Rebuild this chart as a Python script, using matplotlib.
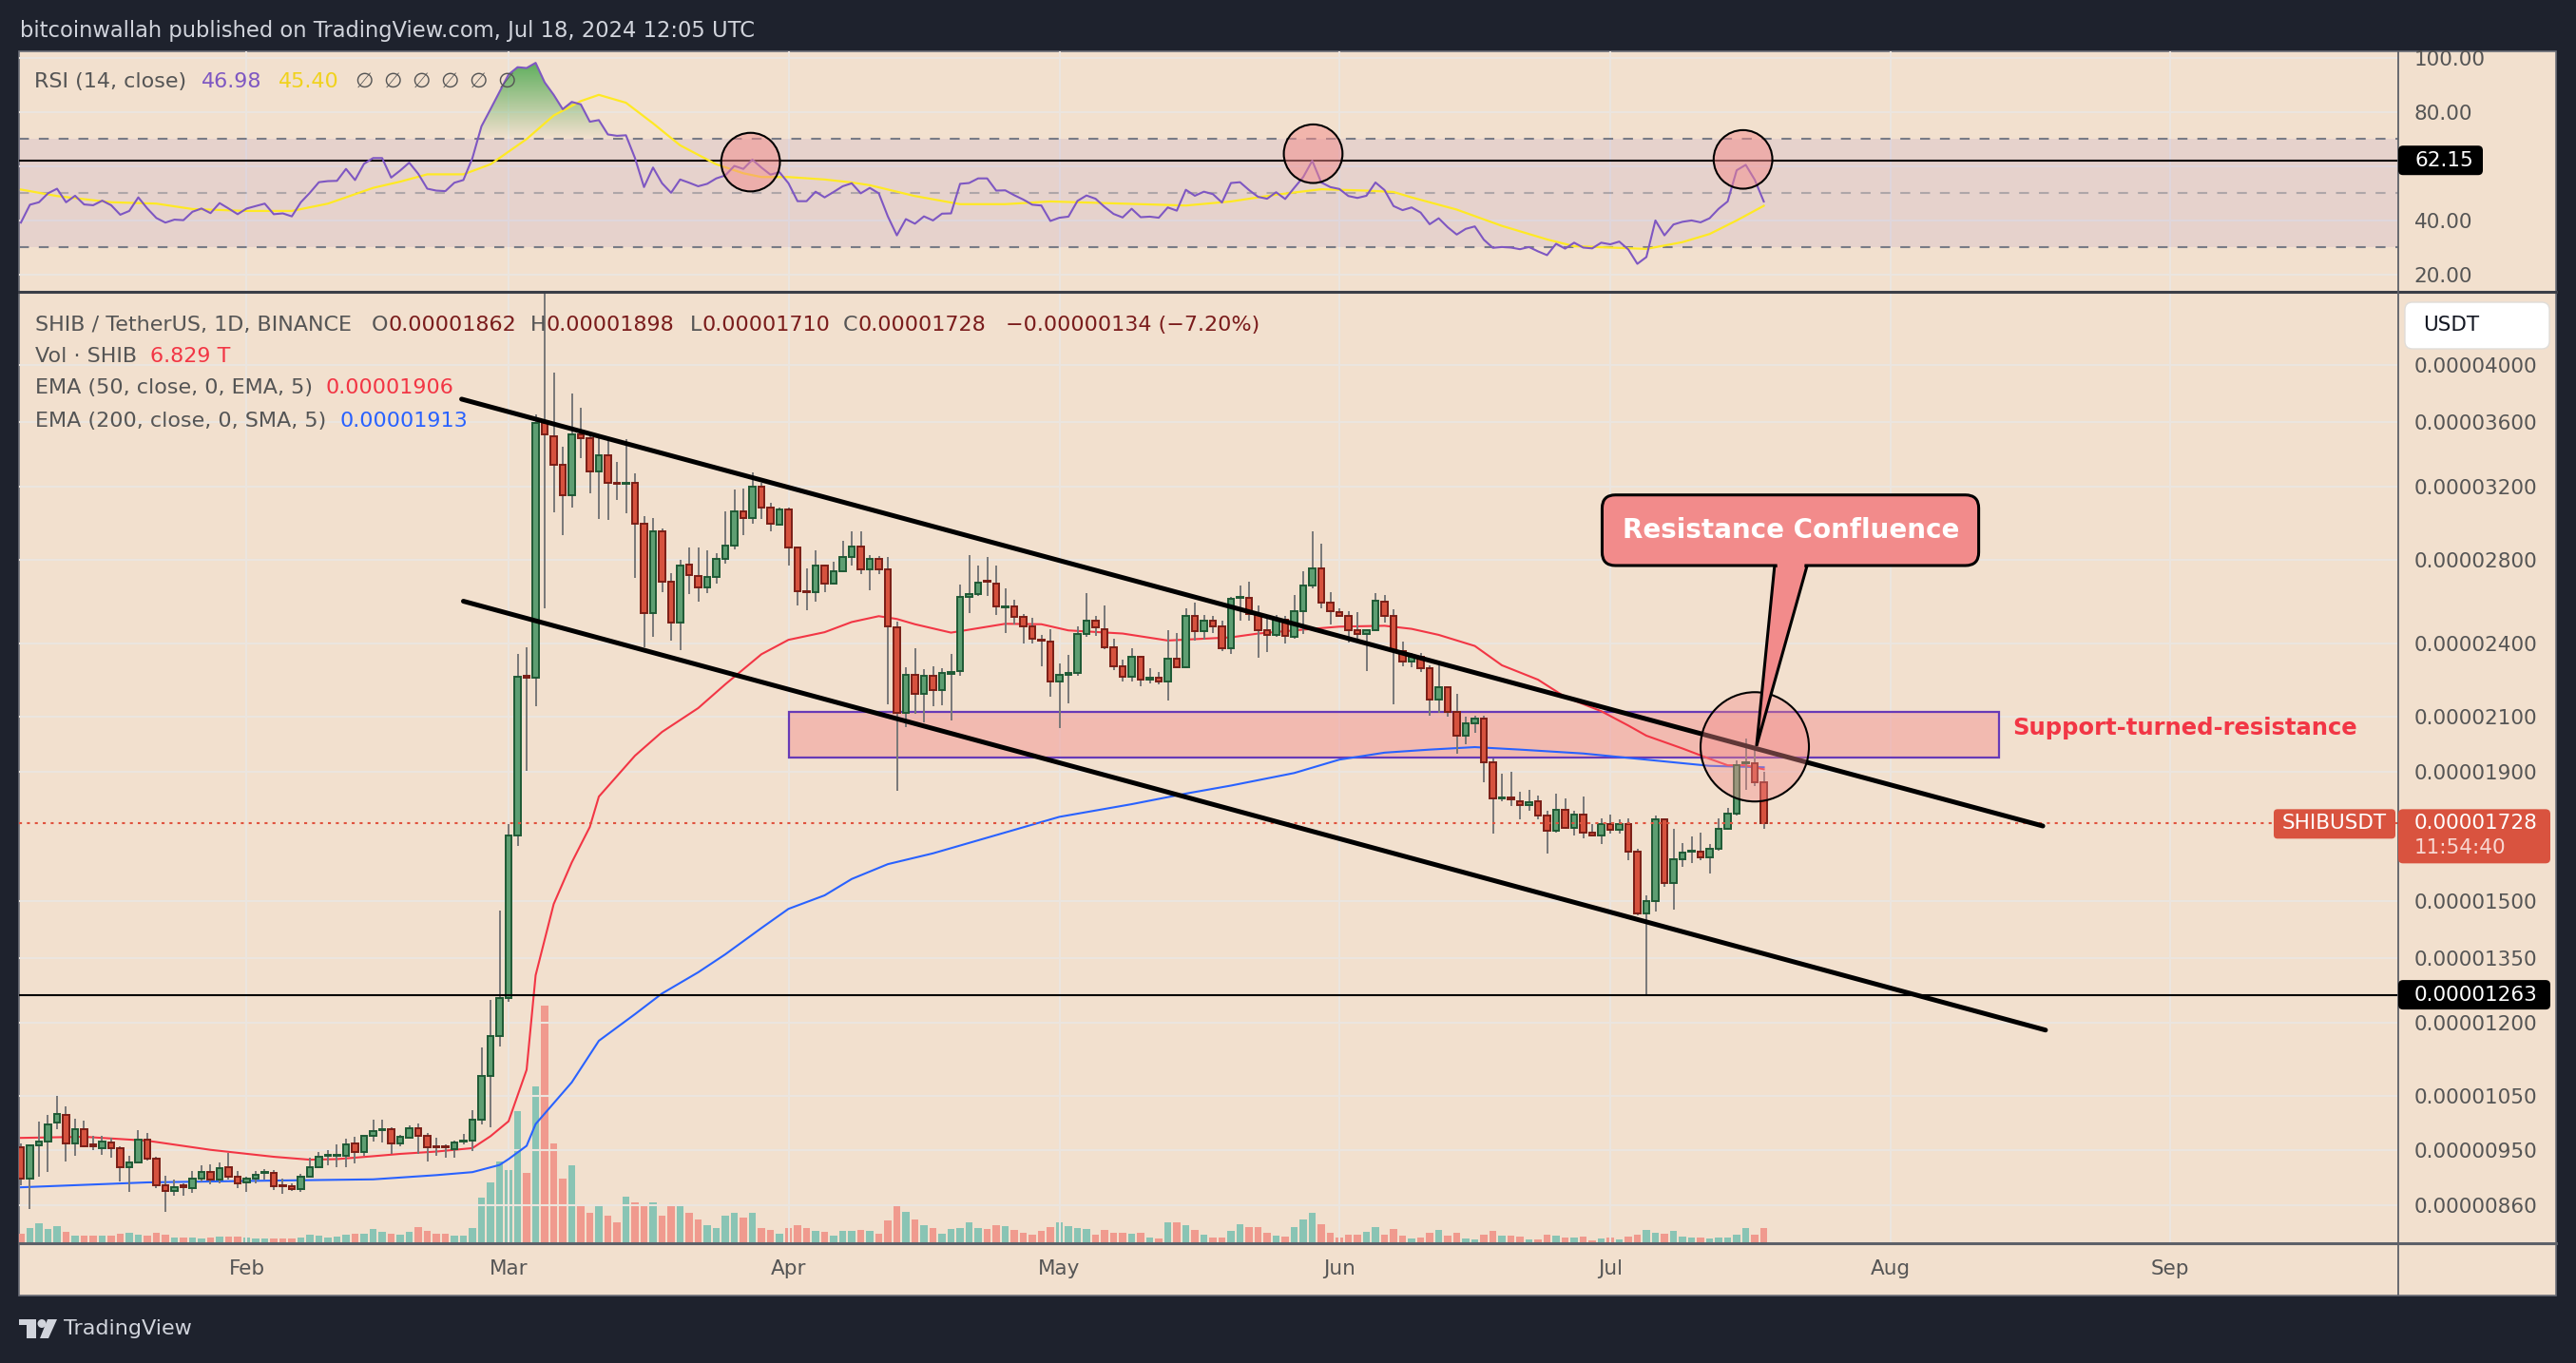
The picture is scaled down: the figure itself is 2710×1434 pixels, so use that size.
import numpy as np
import matplotlib
matplotlib.use("Agg")
import matplotlib.pyplot as plt
from matplotlib.patches import Rectangle, Ellipse, FancyBboxPatch, Polygon, Circle
from matplotlib.lines import Line2D
from matplotlib.transforms import IdentityTransform
from matplotlib.ticker import FixedLocator, NullLocator

# day index: 0 = 1 Jan 2024; prices in units of 1e-8 USDT; volume in trillions of SHIB
first_day = 6
open_ = [956, 902, 959, 966, 999, 1014, 963, 987, 960, 954,
         964, 954, 921, 930, 969, 935, 892, 882, 891, 887,
         903, 913, 901, 921, 905, 896, 903, 912, 912, 892,
         890, 885, 906, 921, 940, 941, 941, 963, 947, 975,
         986, 987, 962, 973, 989, 975, 957, 957, 952, 966,
         967, 1005, 1088, 1171, 1256, 1690, 2262, 2255, 3595, 3510,
         3332, 3149, 3524, 3495, 3290, 3387, 3225, 3217, 3220, 2990,
         2540, 2950, 2687, 2494, 2776, 2716, 2660, 2711, 2806, 2872,
         3060, 3022, 3198, 3080, 2985, 3072, 2862, 2645, 2640, 2770,
         2681, 2740, 2815, 2870, 2752, 2806, 2750, 2476, 2115, 2266,
         2192, 2265, 2205, 2270, 2284, 2617, 2627, 2693, 2680, 2568,
         2570, 2520, 2477, 2420, 2410, 2240, 2268, 2275, 2442, 2503,
         2466, 2386, 2302, 2260, 2346, 2250, 2255, 2240, 2336, 2300,
         2525, 2457, 2503, 2477, 2382, 2610, 2610, 2532, 2460, 2438,
         2507, 2430, 2550, 2672, 2754, 2590, 2545, 2528, 2460, 2442,
         2460, 2593, 2528, 2368, 2325, 2346, 2294, 2167, 2219, 2118,
         2029, 2076, 2094, 1931, 1809, 1812, 1800, 1786, 1799, 1752,
         1704, 1772, 1714, 1755, 1699, 1690, 1725, 1709, 1725, 1640,
         1465, 1500, 1740, 1549, 1618, 1640, 1640, 1625, 1650, 1710,
         1760, 1930, 1930, 1862]
high = [962, 960, 1001, 1014, 1049, 1029, 1006, 1004, 975, 975,
        972, 957, 941, 986, 980, 939, 907, 900, 895, 915,
        924, 926, 929, 946, 915, 905, 915, 918, 916, 903,
        895, 910, 938, 948, 951, 961, 970, 974, 976, 1005,
        1005, 991, 977, 994, 998, 980, 972, 960, 967, 979,
        1023, 1146, 1252, 1474, 1726, 2355, 2386, 3655, 4567, 3943,
        3443, 3797, 3695, 3540, 3520, 3500, 3350, 3488, 3280, 3030,
        3020, 2965, 2734, 2800, 2863, 2863, 2848, 2835, 3060, 3183,
        3188, 3285, 3225, 3106, 3080, 3080, 2870, 2755, 2846, 2775,
        2790, 2900, 2950, 2950, 2825, 2820, 2815, 2500, 2298, 2379,
        2290, 2303, 2294, 2355, 2675, 2823, 2770, 2813, 2770, 2657,
        2603, 2535, 2517, 2438, 2466, 2315, 2352, 2477, 2635, 2525,
        2576, 2424, 2330, 2381, 2348, 2294, 2280, 2463, 2450, 2560,
        2590, 2529, 2525, 2503, 2615, 2670, 2690, 2576, 2516, 2530,
        2525, 2625, 2743, 2949, 2881, 2637, 2560, 2550, 2545, 2466,
        2635, 2625, 2555, 2411, 2362, 2359, 2308, 2324, 2219, 2190,
        2100, 2105, 2105, 1945, 1893, 1900, 1830, 1836, 1820, 1770,
        1825, 1809, 1770, 1814, 1727, 1745, 1757, 1740, 1745, 1650,
        1514, 1754, 1745, 1712, 1668, 1687, 1700, 1663, 1743, 1778,
        1939, 2017, 1986, 1898]
low = [892, 853, 905, 913, 987, 931, 941, 955, 950, 943,
       938, 897, 880, 929, 933, 887, 849, 875, 875, 879,
       897, 893, 895, 900, 886, 880, 895, 901, 884, 878,
       882, 880, 905, 920, 924, 922, 922, 928, 940, 965,
       964, 944, 958, 970, 944, 931, 940, 938, 937, 961,
       949, 997, 991, 1149, 1247, 1658, 1904, 2142, 2562, 3054,
       2931, 3080, 3370, 3163, 3016, 3010, 3125, 3048, 2710, 2385,
       2431, 2638, 2414, 2373, 2630, 2594, 2634, 2682, 2780, 2855,
       2928, 2990, 3015, 2950, 2980, 2770, 2573, 2553, 2594, 2640,
       2675, 2735, 2770, 2725, 2646, 2725, 2149, 1833, 2060, 2110,
       2080, 2140, 2145, 2085, 2265, 2540, 2618, 2620, 2530, 2450,
       2488, 2403, 2403, 2303, 2180, 2057, 2153, 2263, 2430, 2434,
       2375, 2287, 2240, 2240, 2222, 2232, 2227, 2164, 2296, 2296,
       2414, 2417, 2448, 2368, 2355, 2506, 2506, 2341, 2365, 2430,
       2403, 2424, 2445, 2656, 2562, 2488, 2520, 2405, 2417, 2285,
       2457, 2497, 2150, 2303, 2300, 2278, 2105, 2115, 2100, 1962,
       1998, 2040, 1862, 1697, 1799, 1783, 1742, 1770, 1742, 1635,
       1700, 1710, 1690, 1682, 1690, 1663, 1697, 1697, 1616, 1460,
       1263, 1470, 1539, 1475, 1595, 1606, 1616, 1578, 1645, 1708,
       1754, 1838, 1850, 1710]
close = [902, 959, 966, 997, 1015, 963, 987, 958, 957, 965,
         954, 921, 930, 969, 936, 892, 882, 888, 888, 903,
         913, 901, 919, 905, 894, 903, 909, 914, 890, 890,
         885, 906, 921, 939, 942, 942, 961, 947, 975, 985,
         988, 963, 974, 990, 975, 955, 955, 955, 964, 968,
         1005, 1088, 1171, 1256, 1690, 2260, 2258, 3595, 3524, 3332,
         3149, 3524, 3500, 3290, 3387, 3225, 3217, 3222, 2990, 2540,
         2950, 2687, 2494, 2770, 2722, 2660, 2711, 2806, 2872, 3060,
         3022, 3200, 3082, 2990, 3072, 2862, 2643, 2640, 2770, 2681,
         2740, 2815, 2870, 2752, 2806, 2752, 2478, 2115, 2266, 2192,
         2265, 2205, 2277, 2280, 2617, 2627, 2686, 2688, 2570, 2572,
         2522, 2477, 2422, 2415, 2240, 2268, 2275, 2442, 2503, 2474,
         2386, 2302, 2260, 2346, 2250, 2255, 2240, 2336, 2300, 2525,
         2457, 2503, 2478, 2382, 2607, 2617, 2535, 2460, 2438, 2507,
         2434, 2550, 2672, 2754, 2590, 2546, 2528, 2460, 2442, 2460,
         2597, 2528, 2368, 2325, 2346, 2295, 2167, 2219, 2119, 2029,
         2076, 2094, 1931, 1809, 1812, 1805, 1786, 1798, 1752, 1704,
         1772, 1714, 1755, 1699, 1690, 1725, 1709, 1725, 1640, 1465,
         1500, 1740, 1549, 1618, 1638, 1645, 1625, 1650, 1710, 1760,
         1922, 1933, 1862, 1728]
volume_t = [3.9, 6.7, 8.8, 6.1, 7.4, 4.8, 3.0, 3.0, 3.0, 3.0,
            3.0, 3.9, 4.3, 3.4, 3.0, 4.3, 3.4, 2.1, 2.1, 2.1,
            1.7, 2.1, 2.5, 2.5, 2.5, 2.1, 1.7, 1.7, 1.7, 1.7,
            1.7, 2.1, 3.4, 3.0, 2.1, 2.5, 3.4, 3.9, 3.9, 6.1,
            4.8, 3.9, 3.4, 4.8, 7.0, 5.2, 3.9, 3.9, 3.0, 3.0,
            6.6, 20.8, 28.3, 38.1, 33.9, 61.8, 32.8, 73.1, 111.3, 46.4,
            29.9, 36.1, 17.8, 13.8, 17.4, 12.5, 9.5, 21.4, 18.7, 16.9,
            18.7, 12.5, 17.8, 16.9, 13.8, 10.9, 8.0, 6.7, 12.5, 13.8,
            11.6, 13.8, 6.7, 5.8, 4.0, 6.7, 8.0, 6.7, 5.4, 4.9,
            3.1, 5.4, 5.4, 5.8, 5.4, 4.0, 10.3, 16.9, 14.3, 10.9,
            8.0, 6.7, 4.0, 6.2, 6.7, 9.4, 6.7, 6.2, 8.0, 7.6,
            5.8, 4.5, 3.6, 5.4, 7.1, 9.4, 7.6, 6.7, 6.2, 3.6,
            5.8, 4.5, 4.5, 4.0, 4.5, 2.2, 1.8, 9.4, 9.4, 8.0,
            5.8, 3.6, 2.2, 2.2, 5.4, 8.5, 7.1, 7.1, 4.5, 3.1,
            2.7, 7.1, 10.7, 13.8, 8.5, 4.5, 2.2, 3.6, 3.6, 4.9,
            7.1, 3.6, 6.2, 3.1, 1.8, 2.2, 4.5, 5.8, 3.1, 4.5,
            1.8, 1.3, 3.6, 5.4, 3.1, 3.1, 2.7, 1.3, 1.3, 3.6,
            3.1, 2.2, 2.2, 2.7, 0.9, 1.8, 2.2, 1.3, 2.7, 3.6,
            5.8, 4.5, 4.0, 5.4, 2.7, 2.2, 2.2, 1.8, 2.2, 2.2,
            3.6, 6.7, 3.6, 6.8]
rsi = [39.2, 45.8, 46.7, 50.0, 51.7, 46.7, 49.1, 45.9, 45.6, 47.3,
       45.6, 42.1, 43.5, 48.5, 44.4, 40.9, 39.2, 40.3, 40.1, 43.2,
       44.4, 42.7, 46.4, 44.4, 42.3, 44.4, 45.3, 46.2, 42.3, 42.6,
       41.5, 46.7, 50.2, 54.1, 54.5, 54.6, 59.0, 54.9, 60.9, 63.0,
       63.0, 55.8, 58.4, 61.3, 57.2, 51.7, 51.0, 50.8, 53.9, 54.9,
       63.0, 74.7, 81.0, 87.4, 93.8, 96.5, 96.2, 98.1, 90.9, 86.3,
       81.0, 83.7, 82.8, 76.4, 77.0, 71.7, 71.2, 71.4, 63.0, 52.3,
       59.5, 53.7, 50.2, 55.1, 53.9, 52.6, 53.5, 55.5, 56.6, 60.1,
       59.0, 62.4, 59.5, 56.9, 57.8, 53.7, 47.1, 47.1, 50.6, 48.5,
       50.5, 52.6, 53.7, 50.0, 52.0, 50.0, 41.5, 34.5, 40.5, 38.8,
       41.5, 40.0, 42.5, 42.6, 53.5, 53.8, 55.5, 55.5, 51.0, 51.1,
       49.3, 47.7, 45.8, 45.5, 39.8, 41.0, 41.4, 47.2, 49.2, 48.0,
       45.0, 42.4, 41.1, 44.3, 41.2, 41.4, 41.0, 44.8, 43.6, 51.3,
       49.1, 50.6, 49.7, 46.6, 53.8, 54.1, 51.2, 48.7, 48.0, 50.4,
       47.9, 52.0, 56.0, 62.0, 54.0, 52.3, 51.6, 49.0, 48.3, 49.1,
       54.0, 51.2, 45.3, 43.8, 44.8, 42.9, 38.6, 40.8, 37.5, 34.8,
       36.9, 37.8, 32.9, 29.9, 30.2, 30.0, 29.4, 30.2, 28.6, 27.2,
       31.4, 29.6, 31.8, 30.0, 29.7, 31.8, 31.2, 32.2, 29.3, 24.0,
       26.5, 40.0, 34.5, 38.5, 39.5, 40.0, 39.3, 40.8, 44.3, 47.0,
       58.5, 60.5, 55.0, 46.98]
rsi_ma_day = [6, 10, 16, 21, 25, 31, 36, 40, 45, 48, 51, 55, 58, 62, 65, 68, 70, 73, 76,
              79, 83, 86, 88, 91, 95, 98, 100, 105, 110, 115, 120, 125, 130, 135, 140,
              145, 150, 155, 158, 160, 165, 170, 175, 178, 182, 186, 190, 193, 196, 199]
rsi_ma = [51.4, 49.0, 46.7, 46.2, 44.2, 43.5, 43.5, 46.2, 52.0, 54.3, 57.0, 57.0, 60.7,
          70.0, 78.7, 84.0, 86.3, 83.4, 75.8, 67.7, 60.7, 57.4, 56.0, 56.0, 55.1, 54.0,
          53.0, 49.0, 46.0, 46.0, 47.0, 46.5, 46.0, 45.5, 47.0, 49.5, 51.5, 51.0, 50.5,
          48.5, 44.0, 38.0, 33.0, 30.5, 30.0, 29.5, 32.0, 35.0, 40.0, 45.4]
ema50_day = [6, 13, 20, 27, 34, 38, 41, 45, 48, 52, 56, 58, 60, 62, 63, 65, 67, 69, 70,
             74, 77, 81, 84, 88, 91, 95, 98, 101, 103, 105, 109, 115, 119, 122, 128, 133,
             136, 140, 143, 149, 152, 157, 160, 163, 167, 170, 174, 177, 181, 184, 186,
             190, 193, 195, 197, 199]
ema50 = [972, 974, 967, 951, 939, 934, 935, 940, 944, 948, 954, 975, 1002, 1101, 1309,
         1491, 1609, 1717, 1815, 1956, 2043, 2134, 2229, 2355, 2418, 2452, 2498, 2525,
         2512, 2488, 2450, 2490, 2488, 2460, 2446, 2415, 2421, 2429, 2446, 2467, 2477,
         2481, 2467, 2440, 2391, 2308, 2248, 2178, 2122, 2067, 2029, 1982, 1945, 1922,
         1922, 1908]
ema200_day = [6, 20, 34, 45, 52, 56, 59, 60, 62, 63, 67, 70, 74, 77, 81, 84, 88, 91, 95,
              98, 102, 107, 121, 129, 135, 140, 147, 152, 157, 162, 167, 172, 179, 186,
              193, 199]
ema200 = [888, 896, 899, 901, 908, 913, 925, 935, 958, 997, 1076, 1161, 1219, 1266, 1316,
          1360, 1427, 1478, 1515, 1561, 1604, 1636, 1749, 1790, 1825, 1852, 1895, 1942,
          1967, 1978, 1987, 1978, 1964, 1942, 1920, 1915]
price_ticks = [4000, 3600, 3200, 2800, 2400, 2100, 1900, 1500, 1350, 1200, 1050, 950, 860]
rsi_ticks = [20, 40, 60, 80, 100]
rsi_tick_labels = ["20.00", "40.00", "", "80.00", "100.00"]
month_day = [31, 60, 91, 121, 152, 182, 213, 244]
month_name = ["Feb", "Mar", "Apr", "May", "Jun", "Jul", "Aug", "Sep"]
channel_upper_day = [54.8, 229.9]
channel_upper = [3756, 1720]
channel_lower_day = [55.0, 230.2]
channel_lower = [2595, 1184]
zone_day = [91, 225.1]
zone_price = [1948, 2119]
swing_low = 1263
last_price = 1728
rsi_level = 62.15
rsi_circle_day = [86.8, 149.1, 196.7]
rsi_circle_val = [61.5, 64.6, 62.5]

E8 = 1e-8
W, H = 2710, 1434
BG = "#1e222d"
PANE = "#f2e0ce"
GRID = "#ebe5df"
TXT = "#555555"
VAL = "#7a1c1c"
CALLOUT = "#f28b8b"

days = np.arange(first_day, first_day + len(close))
o = np.array(open_) * E8
h = np.array(high) * E8
l = np.array(low) * E8
c = np.array(close) * E8
up = c >= o

fig = plt.figure(figsize=(W / 100, H / 100), dpi=100, facecolor=BG)


def fig_box(x0, y0, x1, y1):
    # pixel box measured from top-left -> add_axes rect
    return [x0 / W, 1 - y1 / H, (x1 - x0) / W, (y1 - y0) / H]


def ptxt(x, y, s, **kw):
    return fig.text(x / W, 1 - y / H, s, **kw)


def run(x, y, parts, size=16):
    r = fig.canvas.get_renderer()
    for s, col in parts:
        t = ptxt(x, y, s, color=col, fontsize=size, va="center")
        x += t.get_window_extent(r).width


def px_box(x0, y0, x1, y1, fc, ec="none", r=0, z=9):
    style = "round,pad=0,rounding_size=%g" % r if r else "square,pad=0"
    fig.add_artist(FancyBboxPatch((x0, H - y1), x1 - x0, y1 - y0, boxstyle=style,
                                  transform=IdentityTransform(), facecolor=fc,
                                  edgecolor=ec, lw=1, zorder=z))


def fig_line(xs, ys, color, lw, z=8):
    fig.add_artist(Line2D([x / W for x in xs], [1 - y / H for y in ys],
                          transform=fig.transFigure, color=color, lw=lw, zorder=z))


# panel background
fig.add_artist(Rectangle((20 / W, 1 - 1363 / H), 2669 / W, 1309 / H, transform=fig.transFigure,
                         facecolor=PANE, edgecolor="#6b6e78", lw=1.2, zorder=-5))

ax_rsi = fig.add_axes(fig_box(20, 54, 2523, 306))
ax = fig.add_axes(fig_box(20, 308, 2523, 1307))
ax_vol = ax.twinx()
ax.set_zorder(2)
ax_vol.set_zorder(1)
for a in (ax, ax_rsi, ax_vol):
    a.patch.set_visible(False)
    for s in a.spines.values():
        s.set_visible(False)
ax_vol.set_axis_off()

# ---------- price pane ----------
ax.set_yscale("log")
ax.yaxis.tick_right()
ax.yaxis.set_major_locator(FixedLocator(np.array(price_ticks) * E8))
ax.yaxis.set_minor_locator(NullLocator())
ax.set_yticklabels(["%.8f" % (v * E8) for v in price_ticks])
ax.set_xticks(month_day)
ax.set_xticklabels(month_name)
ax.tick_params(axis="y", length=0, pad=12, labelsize=15.5, labelcolor=TXT)
ax.tick_params(axis="x", length=0, pad=13, labelsize=15.5, labelcolor=TXT)
ax.grid(True, color=GRID, lw=1.5)
ax.set_axisbelow(True)

ax_vol.bar(days, volume_t, width=0.75, color=np.where(up, "#89c4b4", "#f09a8e"))
ax_vol.set_ylim(0, 446)

ax.add_patch(Rectangle((zone_day[0], zone_price[0] * E8), zone_day[1] - zone_day[0],
                       (zone_price[1] - zone_price[0]) * E8, facecolor=(0.95, 0.55, 0.55, 0.45),
                       edgecolor="#673ab7", lw=1.6, zorder=2.5))
ax.plot(ema200_day, np.array(ema200) * E8, color="#2962ff", lw=1.5, zorder=3)
ax.plot(ema50_day, np.array(ema50) * E8, color="#f23645", lw=1.5, zorder=3)

ax.vlines(days, l, h, color="#787878", lw=1.4, zorder=3.5)
lo_b = np.minimum(o, c)
ax.bar(days, np.maximum(o, c) - lo_b, bottom=lo_b, width=0.68,
       color=np.where(up, "#5e9e72", "#d6523e"), edgecolor=np.where(up, "#1f5a35", "#7a1e16"),
       linewidth=1.4, zorder=4)

ax.plot(channel_upper_day, np.array(channel_upper) * E8, color="black", lw=3.6,
        solid_capstyle="round", zorder=6)
ax.plot(channel_lower_day, np.array(channel_lower) * E8, color="black", lw=3.6,
        solid_capstyle="round", zorder=6)
ax.axhline(swing_low * E8, color="black", lw=1.5, zorder=5)
ax.axhline(last_price * E8, color="#e0533f", lw=1.5, ls=(0, (1.5, 2.5)), zorder=5)
ax.text(226.5, 2058 * E8, "Support-turned-resistance", color="#f23645", fontsize=17.5,
        fontweight="bold", va="center", ha="left", zorder=7)

ax.set_xlim(5.79, 269.26)
ax.set_ylim(803 * E8, 4563 * E8)


def to_px(day, price):
    return ax.transData.transform((day, price * E8))


# confluence circle
cx, cy = to_px(198.0, 1988)
ax.add_patch(Ellipse((cx, cy), 114, 115, transform=IdentityTransform(),
                     facecolor=(0.95, 0.55, 0.55, 0.4), edgecolor="black", lw=1.5, zorder=7))

# callout
bx0, by1 = to_px(181.1, 3152)
bx1, by0 = to_px(222.8, 2770)
t1 = to_px(200.2, 2770)
t2 = to_px(203.8, 2770)
tip = to_px(198.2, 1991)
ax.add_patch(Polygon([t1, t2, tip], closed=True, transform=IdentityTransform(),
                     facecolor=CALLOUT, edgecolor="black", lw=2.2, zorder=8))
ax.add_patch(FancyBboxPatch((bx0, by0), bx1 - bx0, by1 - by0, boxstyle="round,pad=0,rounding_size=14",
                            transform=IdentityTransform(), facecolor=CALLOUT, edgecolor="black",
                            lw=2.2, zorder=8))
ax.add_patch(Polygon([(t1[0] + 2.5, by0 + 4), (t2[0] - 2.5, by0 + 4), (t2[0] - 3, by0 - 3),
                      (t1[0] + 3, by0 - 3)], closed=True, transform=IdentityTransform(),
                     facecolor=CALLOUT, edgecolor="none", zorder=8.5))
ax.text(202, 2955 * E8, "Resistance Confluence", color="white", fontsize=20, fontweight="bold",
        ha="center", va="center", zorder=9)

# ---------- RSI pane ----------
ax_rsi.set_yticks(rsi_ticks)
ax_rsi.set_yticklabels(rsi_tick_labels)
ax_rsi.yaxis.tick_right()
ax_rsi.set_xticks(month_day)
ax_rsi.tick_params(axis="y", length=0, pad=12, labelsize=15.5, labelcolor=TXT)
ax_rsi.tick_params(axis="x", length=0, labelbottom=False)
ax_rsi.grid(True, color=GRID, lw=1.5)
ax_rsi.set_axisbelow(True)
ax_rsi.axhspan(30, 70, color="#7e57c2", alpha=0.1, lw=0)
for lev, al in ((70, 1.0), (50, 0.5), (30, 1.0)):
    ax_rsi.axhline(lev, color="#787b86", alpha=al, lw=1.5, ls=(0, (5, 5)))
ax_rsi.axhline(rsi_level, color="black", lw=1.5, zorder=3)

rsi_arr = np.array(rsi)
ob = ax_rsi.fill_between(days, rsi_arr, 70, where=rsi_arr >= 70, interpolate=True,
                         facecolor="none", edgecolor="none")
grad = np.zeros((256, 1, 4))
grad[:, 0, 0], grad[:, 0, 1], grad[:, 0, 2] = 0.30, 0.66, 0.31
grad[:, 0, 3] = np.linspace(0.0, 0.95, 256)
im = ax_rsi.imshow(grad, extent=(days[0], days[-1], 70, 100), origin="lower", aspect="auto",
                   zorder=2)
im.set_clip_path(ob.get_paths()[0], transform=ax_rsi.transData)

ax_rsi.plot(rsi_ma_day, rsi_ma, color="#ffe924", lw=1.6, zorder=4)
ax_rsi.plot(days, rsi_arr, color="#7e57c2", lw=1.5, zorder=4)
for d, v in zip(rsi_circle_day, rsi_circle_val):
    ax_rsi.add_patch(Ellipse((d, v), 6.5, 21.6, facecolor=(0.95, 0.55, 0.55, 0.5),
                             edgecolor="black", lw=1.5, zorder=5))
ax_rsi.set_xlim(5.79, 269.26)
ax_rsi.set_ylim(14.04, 102.35)

# ---------- frame / separators ----------
fig_line([20, 2689], [307, 307], "#3b3e47", 2.2)
fig_line([20, 2689], [1307.5, 1307.5], "#5d6068", 2.2)
fig_line([2523, 2523], [54, 1363], "#5d6068", 1.3)

# ---------- axis label boxes ----------
y_rsi = H - ax_rsi.transData.transform((0, rsi_level))[1]
px_box(2523, y_rsi - 15.5, 2612, y_rsi + 15.5, "black", r=5)
ptxt(2540, y_rsi, "%.2f" % rsi_level, color="white", fontsize=15.5, va="center", zorder=10)

y_sl = H - to_px(0, swing_low)[1]
px_box(2523, y_sl - 15.5, 2683, y_sl + 15.5, "black", r=5)
ptxt(2540, y_sl, "0.00001263", color="white", fontsize=15.5, va="center", zorder=10)

y_lp = H - to_px(0, last_price)[1]
px_box(2523, y_lp - 15, 2683, y_lp + 42, "#d9533f", r=5)
ptxt(2540, y_lp, "0.00001728", color="white", fontsize=15.5, va="center", zorder=10)
ptxt(2540, y_lp + 26, "11:54:40", color="#f8d8d2", fontsize=15.5, va="center", zorder=10)
px_box(2392, y_lp - 15, 2520, y_lp + 16, "#d9533f", r=4)
ptxt(2456, y_lp, "SHIBUSDT", color="white", fontsize=15.5, va="center", ha="center", zorder=10)

px_box(2530, 318, 2682, 367, "white", ec="#e0ddd9", r=8)
ptxt(2549, 342, "USDT", color="#131722", fontsize=15.5, va="center", zorder=10)

# ---------- legends ----------
ptxt(35.6, 86, "RSI (14, close)", color=TXT, fontsize=16, va="center")
ptxt(212, 86, "46.98", color="#7e57c2", fontsize=16, va="center")
ptxt(293, 86, "45.40", color="#f0d21c", fontsize=16, va="center")
for i in range(6):
    ptxt(373 + 30 * i, 86, "\u2205", color=TXT, fontsize=16, va="center")

ptxt(36.6, 341.7, "SHIB / TetherUS, 1D, BINANCE", color=TXT, fontsize=16, va="center")
run(391, 341.7, [("O", TXT), ("0.00001862", VAL)])
run(558, 341.7, [("H", TXT), ("0.00001898", VAL)])
run(726, 341.7, [("L", TXT), ("0.00001710", VAL)])
run(887, 341.7, [("C", TXT), ("0.00001728", VAL)])
ptxt(1058, 341.7, "\u22120.00000134 (\u22127.20%)", color=VAL, fontsize=16, va="center")
run(36.6, 375, [("Vol \u00b7 SHIB  ", TXT), ("6.829 T", "#f23645")])
run(36.6, 408, [("EMA (50, close, 0, EMA, 5)  ", TXT), ("0.00001906", "#f23645")])
run(36.6, 443, [("EMA (200, close, 0, SMA, 5)  ", TXT), ("0.00001913", "#2962ff")])

# ---------- header / footer ----------
ptxt(21, 32, "bitcoinwallah published on TradingView.com, Jul 18, 2024 12:05 UTC",
     color="#d1d4dc", fontsize=16.3, va="center")
logo = "#d1d4dc"
fig.add_artist(Rectangle((20, H - 1394), 18, 6, transform=IdentityTransform(), facecolor=logo))
fig.add_artist(Rectangle((28, H - 1408), 10, 20, transform=IdentityTransform(), facecolor=logo))
fig.add_artist(Circle((44, H - 1392.5), 4.5, transform=IdentityTransform(), facecolor=logo))
fig.add_artist(Polygon([(50, H - 1388), (60, H - 1388), (51, H - 1408), (42, H - 1408)],
                       closed=True, transform=IdentityTransform(), facecolor=logo))
ptxt(67, 1398, "TradingView", color=logo, fontsize=16, va="center")

fig.savefig("out.png", dpi=100, facecolor=BG)
